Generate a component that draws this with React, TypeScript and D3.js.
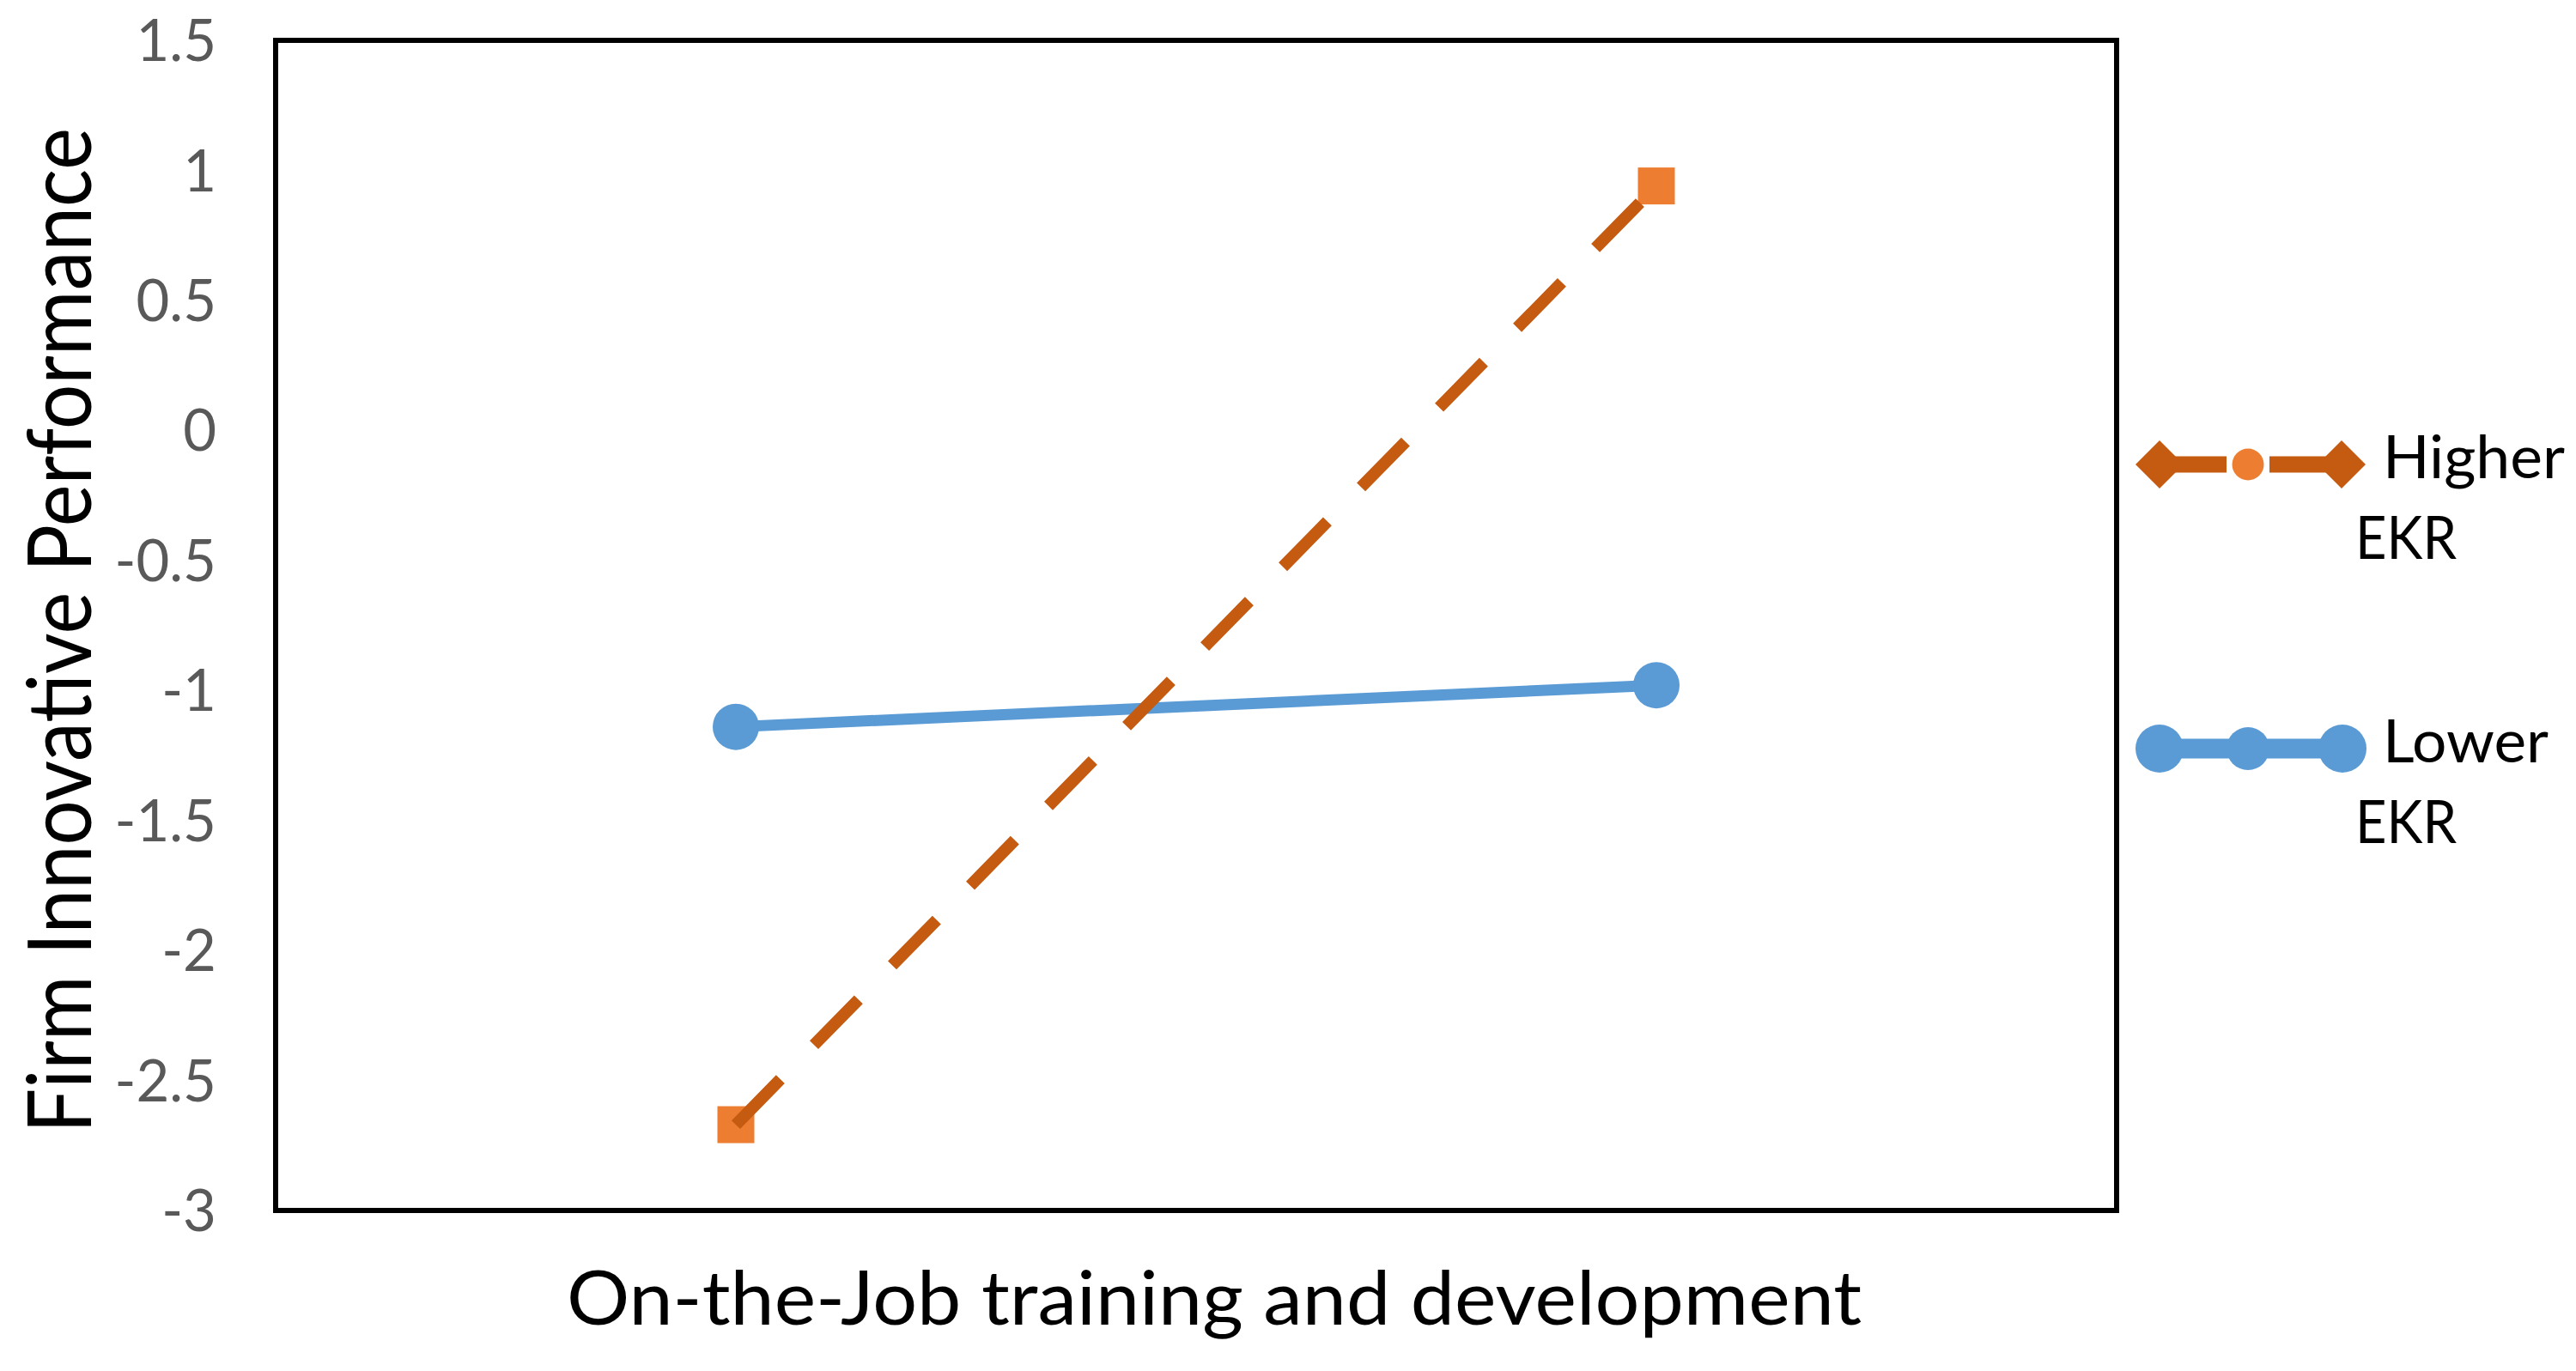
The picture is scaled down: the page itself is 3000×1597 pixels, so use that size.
import React, { useEffect } from "react";
import * as d3 from "d3";

const categories: string[] = ["Low", "High"];
const higherEKR: number[] = [-2.67, 0.94];
const lowerEKR: number[] = [-1.14, -0.98];
const yTicks: number[] = [1.5, 1, 0.5, 0, -0.5, -1, -1.5, -2, -2.5, -3];
const seriesNames: string[] = ["Higher EKR", "Lower EKR"];
const xTitle = "On-the-Job training and development";
const yTitle = "Firm Innovative Performance";

const W = 3000;
const H = 1597;
const plot = { left: 321, top: 47, right: 2465, bottom: 1410 };
const FONT = "Lato, 'Open Sans', 'Liberation Sans', sans-serif";
const ORANGE_LINE = "#C55A11";
const ORANGE_MARK = "#ED7D31";
const BLUE = "#5B9BD5";

export default function App() {
  useEffect(() => {
    document.body.style.margin = "0";
    document.body.style.overflow = "hidden";
  }, []);

  const x = d3
    .scalePoint<string>()
    .domain(categories)
    .range([plot.left, plot.right])
    .padding(0.5);
  const y = d3.scaleLinear().domain([-3, 1.5]).range([plot.bottom, plot.top]);

  const line = d3
    .line<[string, number]>()
    .x((d) => x(d[0]) as number)
    .y((d) => y(d[1]));

  const hiPts: [string, number][] = categories.map((c, i) => [c, higherEKR[i]]);
  const loPts: [string, number][] = categories.map((c, i) => [c, lowerEKR[i]]);

  const sq = 43;
  const diamond = (cx: number, cy: number, r: number) =>
    `M${cx - r},${cy}L${cx},${cy - r}L${cx + r},${cy}L${cx},${cy + r}Z`;

  // legend layout
  const lg = { x0: 2515, x1: 2727, xm: 2618, y1: 541, y2: 872 };
  const [hiName1, hiName2] = seriesNames[0].split(" ");
  const [loName1, loName2] = seriesNames[1].split(" ");

  return (
    <svg
      width={W}
      height={H}
      style={{ position: "absolute", left: 0, top: 0, background: "#fff" }}
      fontFamily={FONT}
    >
      <rect x={0} y={0} width={W} height={H} fill="#fff" />
      {/* plot frame */}
      <rect
        x={plot.left}
        y={plot.top}
        width={plot.right - plot.left}
        height={plot.bottom - plot.top}
        fill="none"
        stroke="#000"
        strokeWidth={6}
      />
      {/* y tick labels */}
      {yTicks.map((t) => (
        <text
          key={t}
          x={252}
          y={y(t)}
          dy="0.36em"
          textAnchor="end"
          fontSize={67}
          fill="#595959"
        >
          {String(t)}
        </text>
      ))}
      {/* axis titles */}
      <text
        transform={`translate(106, ${(149 + 1320) / 2}) rotate(-90)`}
        textAnchor="middle"
        fontSize={102}
        fill="#000"
        textLength={1171}
        lengthAdjust="spacingAndGlyphs"
      >
        {yTitle}
      </text>
      <text
        x={(660 + 2168) / 2}
        y={1543}
        textAnchor="middle"
        fontSize={88}
        fill="#000"
        textLength={1508}
        lengthAdjust="spacingAndGlyphs"
      >
        {xTitle}
      </text>

      {/* Lower EKR series */}
      <path d={line(loPts) || ""} fill="none" stroke={BLUE} strokeWidth={13} />
      {loPts.map((p, i) => (
        <circle key={i} cx={x(p[0]) as number} cy={y(p[1])} r={27} fill={BLUE} />
      ))}

      {/* Higher EKR series */}
      {hiPts.map((p, i) => (
        <rect
          key={i}
          x={(x(p[0]) as number) - sq / 2}
          y={y(p[1]) - sq / 2}
          width={sq}
          height={sq}
          fill={ORANGE_MARK}
        />
      ))}
      <path
        d={line(hiPts) || ""}
        fill="none"
        stroke={ORANGE_LINE}
        strokeWidth={14}
        strokeDasharray="74 56"
      />

      {/* legend: Higher EKR */}
      <line x1={lg.x0} y1={lg.y1} x2={2593} y2={lg.y1} stroke={ORANGE_LINE} strokeWidth={19} />
      <line x1={2643} y1={lg.y1} x2={lg.x1} y2={lg.y1} stroke={ORANGE_LINE} strokeWidth={19} />
      <path d={diamond(lg.x0, lg.y1, 28)} fill={ORANGE_LINE} />
      <path d={diamond(lg.x1, lg.y1, 28)} fill={ORANGE_LINE} />
      <circle cx={lg.xm} cy={lg.y1} r={18.5} fill={ORANGE_MARK} />
      <text x={2775} y={557} fontSize={70} fill="#000" textLength={212} lengthAdjust="spacingAndGlyphs">
        {hiName1}
      </text>
      <text x={2743} y={651} fontSize={70} fill="#000" textLength={118} lengthAdjust="spacingAndGlyphs">
        {hiName2}
      </text>

      {/* legend: Lower EKR */}
      <line x1={lg.x0} y1={lg.y2} x2={2728} y2={lg.y2} stroke={BLUE} strokeWidth={23} />
      <circle cx={lg.x0} cy={lg.y2} r={28} fill={BLUE} />
      <circle cx={lg.xm} cy={lg.y2} r={25} fill={BLUE} />
      <circle cx={2728} cy={lg.y2} r={28} fill={BLUE} />
      <text x={2775} y={888} fontSize={70} fill="#000" textLength={193} lengthAdjust="spacingAndGlyphs">
        {loName1}
      </text>
      <text x={2743} y={982} fontSize={70} fill="#000" textLength={118} lengthAdjust="spacingAndGlyphs">
        {loName2}
      </text>
    </svg>
  );
}
